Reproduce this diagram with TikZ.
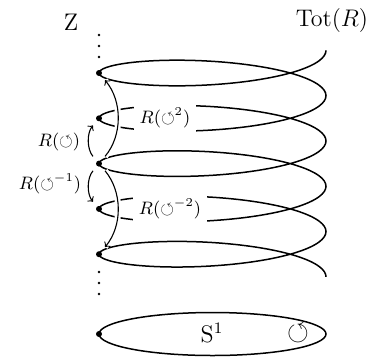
\documentclass[tikz,border=0pt]{standalone}
\usepackage{amssymb}
\begin{document}
\begin{tikzpicture}[x=0.5pt,y=-0.5pt,
  curve/.style={line width=0.75pt},
  dotnode/.style={circle,fill=black,inner sep=0pt,minimum size=3pt},
  arr/.style={->,line width=0.55pt},
  halo/.style={preaction={draw=white,line width=3pt,-}},
  biglabel/.style={font=\fontsize{12}{14}\selectfont},
  smalllabel/.style={font=\fontsize{8.8}{10}\selectfont, inner sep=1pt},
  cover/.style={fill=white, inner sep=3pt}]
\useasboundingbox (0,0) rectangle (374,360);
% helix Tot(R)
\draw[curve] plot[domain=-180:1620, samples=361, smooth, variable=\t]
  ({212.5-113.5*cos(\t)}, {73+0.125833*\t-23*sin(\t)});
% fibre points
\foreach \k in {0,...,4} \node[dotnode] (d\k) at (99,{73+45.3*\k}) {};
% vertical dots
\foreach \y in {35,46,57,272,283,294} \fill (99,\y) circle[radius=0.65pt];
% base circle
\draw[curve] (212.5,334) ellipse [x radius=113.5, y radius=21.5];
\node[dotnode] (s) at (99,334) {};
% labels on the hidden loops
\node[smalllabel, cover] (l2) at (165,118) {$R(\circlearrowleft^2)$};
\node[smalllabel, cover] (lm2) at (170,209) {$R(\circlearrowleft^{-2})$};
% arrows
\draw[arr, halo, shorten <=3pt, shorten >=3pt] (d2) to[bend right=40] (d0);
\draw[arr, halo, shorten <=3pt, shorten >=3pt] (d2) to[bend left=40] (d4);
\draw[arr, shorten <=3pt, shorten >=3pt] (d2) to[bend left=40] (d1);
\draw[arr, shorten <=3pt, shorten >=3pt] (d2) to[bend right=40] (d3);
\node[smalllabel] (l1) at (59,142) {$R(\circlearrowleft)$};
\node[smalllabel] (lm1) at (50,184) {$R(\circlearrowleft^{-1})$};
% big labels
\node[biglabel] (z) at (71,22) {Z};
\node[biglabel] (tot) at (332,20) {$\mathrm{Tot}(R)$};
\node[biglabel] (s1) at (212,333) {$\mathrm{S}^1$};
\node[font=\fontsize{14}{16}\selectfont] (rot) at (298,333) {$\circlearrowleft$};
\end{tikzpicture}
\end{document}
